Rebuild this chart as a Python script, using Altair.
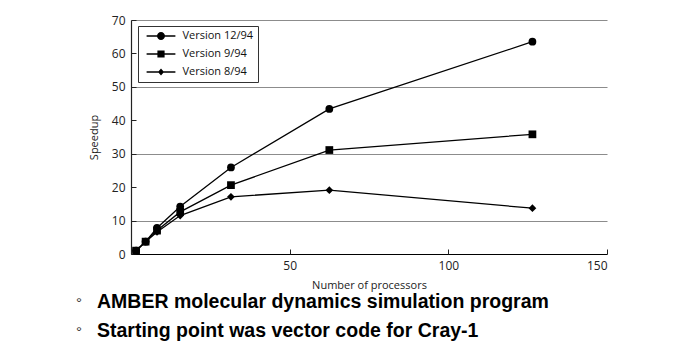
import altair as alt
import pandas as pd

# ---- data ----
processors = [1.6, 4.6, 8.2, 15.5, 31.5, 62.5, 126.5]
series_names = ["Version 12/94", "Version 9/94", "Version 8/94"]
speedup_v1294 = [1.0, 3.7, 7.8, 14.2, 25.9, 43.4, 63.5]
speedup_v994 = [1.0, 3.7, 7.0, 12.6, 20.6, 31.1, 35.8]
speedup_v894 = [1.0, 3.7, 6.6, 11.5, 17.1, 19.1, 13.7]
x_ticks = [50, 100, 150]
y_ticks = [0, 10, 20, 30, 40, 50, 60, 70]
bullet_lines = [
    "AMBER molecular dynamics simulation program",
    "Starting point was vector code for Cray-1",
]

rows = []
for name, vals in zip(series_names, [speedup_v1294, speedup_v994, speedup_v894]):
    for p, v in zip(processors, vals):
        rows.append({"procs": p, "speedup": v, "series": name})
df = pd.DataFrame(rows)

W, H = 476, 234
FONT = "Open Sans"

xscale = alt.Scale(domain=[0, 150], nice=False, zero=True)
yscale = alt.Scale(domain=[0, 70], nice=False, zero=True)

# legend symbols: short line with marker on top (all clockwise so fills union)
bar = "M-3.6,-0.16H3.6V0.16H-3.6Z"
legend_shapes = [
    bar + "M1,0A1,1 0 1,1 -1,0A1,1 0 1,1 1,0Z",
    bar + "M-0.9,-0.9H0.9V0.9H-0.9Z",
    bar + "M0,-0.9L0.75,0L0,0.9L-0.75,0Z",
]
plain_shapes = ["circle", "square", "diamond"]

lines = alt.Chart(df).mark_line(color="black", strokeWidth=1.3).encode(
    x=alt.X("procs:Q", scale=xscale, axis=alt.Axis(
        orient="bottom", values=x_ticks, ticks=False, grid=False,
        domainColor="black", domainWidth=1.2,
        labelFont=FONT, labelFontSize=12, labelColor="#222", labelPadding=6,
        title="Number of processors", titleFont=FONT, titleFontSize=11,
        titleFontWeight="normal", titleColor="#222", titlePadding=8)),
    y=alt.Y("speedup:Q", scale=yscale, axis=alt.Axis(
        orient="left", values=y_ticks, ticks=False, grid=True,
        gridColor="#8c8c8c", gridWidth=1.1,
        gridOpacity={"condition": {"test": "datum.value % 20 === 10", "value": 1}, "value": 0},
        domainColor="#222", domainWidth=1.2,
        labelFont=FONT, labelFontSize=12, labelColor="#222", labelPadding=6,
        title="Speedup", titleFont=FONT, titleFontSize=11,
        titleFontWeight="normal", titleColor="#222", titlePadding=12)),
    detail="series:N",
)

points = alt.Chart(df).mark_point(filled=True, color="black", opacity=1, size=60).encode(
    x=alt.X("procs:Q", scale=xscale, axis=alt.Axis(
        orient="top", offset=-H, values=[0] + x_ticks, ticks=True, tickSize=5,
        tickColor="#222", labels=False, domain=False, grid=False, title=None)),
    y=alt.Y("speedup:Q", scale=yscale, axis=alt.Axis(
        orient="right", offset=-W, values=y_ticks, ticks=True, tickSize=5,
        tickColor="#222", labels=False, domain=False, grid=False, title=None)),
    shape=alt.Shape("series:N", scale=alt.Scale(domain=series_names, range=plain_shapes), legend=None),
)

legend_layer = alt.Chart(df).mark_point(filled=True, color="black", opacity=0, size=64).encode(
    x=alt.X("procs:Q", scale=xscale, axis=None),
    y=alt.Y("speedup:Q", scale=yscale, axis=None),
    shape=alt.Shape("series:N", scale=alt.Scale(domain=series_names, range=legend_shapes),
                    legend=alt.Legend(
                        title=None, orient="none", legendX=7, legendY=6,
                        symbolOpacity=1, symbolSize=64, symbolFillColor="black",
                        symbolStrokeWidth=0, symbolOffset=13,
                        labelOffset=16, padding=4.5, rowPadding=6,
                        strokeColor="#333", fillColor="white",
                        labelFont=FONT, labelFontSize=11, labelColor="#111")),
)

text_layers = []
for i, line in enumerate(bullet_lines):
    tdf = pd.DataFrame({"t": [line], "b": ["\u00b0"]})
    text_layers.append(
        alt.Chart(tdf).mark_text(align="left", baseline="alphabetic", font="Liberation Sans",
                                 fontWeight="bold", fontSize=19.5, color="black").encode(
            text="t:N", x=alt.value(-34), y=alt.value(288 + 29 * i))
    )
    text_layers.append(
        alt.Chart(tdf).mark_text(align="center", baseline="alphabetic", font="Liberation Sans",
                                 fontSize=15, color="#333").encode(
            text="b:N", x=alt.value(-52), y=alt.value(288 + 29 * i))
    )

chart = alt.layer(lines, points, legend_layer, *text_layers).resolve_scale(
    shape="independent"
).resolve_axis(
    x="independent", y="independent"
).properties(
    width=W, height=H,
    padding={"left": 131, "top": 20, "right": 93, "bottom": 96},
    autosize=alt.AutoSizeParams(type="none"),
    background="white",
).configure_view(stroke=None)

chart.save("out.html", embed_options={"renderer": "svg", "actions": False})
